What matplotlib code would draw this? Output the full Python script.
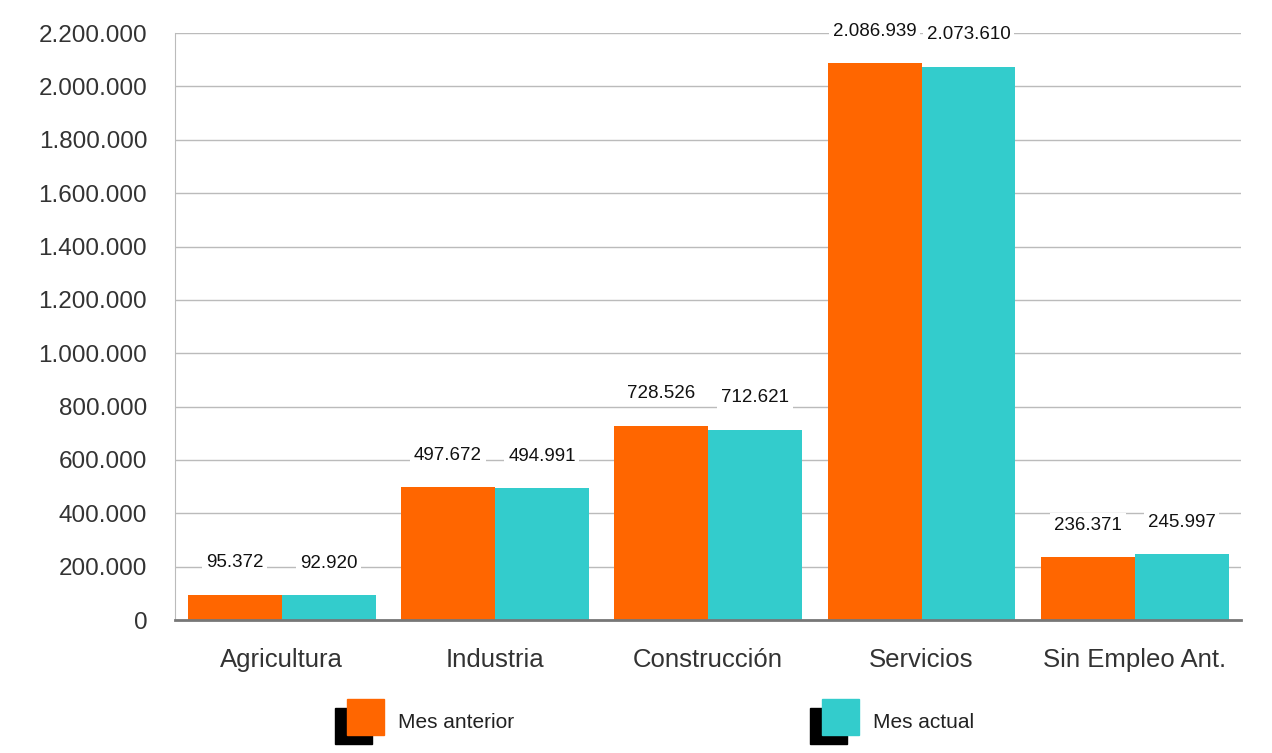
import numpy as np
import matplotlib.pyplot as plt
from matplotlib.patches import Rectangle
from matplotlib.ticker import FuncFormatter

categorias = ["Agricultura", "Industria", "Construcción", "Servicios", "Sin Empleo Ant."]
mes_anterior = [95372, 497672, 728526, 2086939, 236371]
mes_actual = [92920, 494991, 712621, 2073610, 245997]
series = ["Mes anterior", "Mes actual"]
colores = ["#FF6600", "#33CCCC"]

narrow = ["Liberation Sans Narrow", "Liberation Sans", "DejaVu Sans"]
plt.rcParams["font.family"] = ["Liberation Sans", "DejaVu Sans"]

fig = plt.figure(figsize=(12.72, 7.53), dpi=100)
ax = fig.add_axes([0.1376, 0.1766, 0.8384, 0.7794])

x = np.arange(len(categorias))
w = 0.44
for i, (vals, col) in enumerate(zip([mes_anterior, mes_actual], colores)):
    pos = x + (i - 0.5) * w
    ax.bar(pos, vals, width=w, color=col, zorder=2)
    for p, v in zip(pos, vals):
        ax.annotate(f"{v:,}".replace(",", "."), (p, v), xytext=(0, 23),
                    textcoords="offset points", ha="center", va="center",
                    fontsize=13.5, family=narrow, color="#111111", zorder=4,
                    bbox=dict(boxstyle="square,pad=0.2", fc="white", ec="none"))

ax.set_xlim(-0.5, 4.5)
ax.set_ylim(0, 2200000)
ax.set_yticks(np.arange(0, 2200001, 200000))
ax.yaxis.set_major_formatter(FuncFormatter(lambda v, _: f"{int(v):,}".replace(",", ".")))
ax.set_xticks(x)
ax.set_xticklabels(categorias)
ax.tick_params(axis="both", length=0, colors="#333333")
ax.tick_params(axis="x", pad=20, labelsize=18.5)
ax.tick_params(axis="y", pad=20, labelsize=17.5)
ax.grid(axis="y", color="#bbbbbb", linewidth=1, zorder=1)
for s in ["top", "right"]:
    ax.spines[s].set_visible(False)
ax.spines["left"].set_color("#bbbbbb")
ax.spines["bottom"].set_color("#777777")
ax.spines["bottom"].set_linewidth(2)

# leyenda con sombra negra
W, H = 1272, 753
for (lx, txt), col in zip([(347, series[0]), (822, series[1])], colores):
    fig.patches.append(Rectangle(((lx - 12) / W, 1 - 744 / H), 37 / W, 36 / H,
                                 transform=fig.transFigure, color="black"))
    fig.patches.append(Rectangle((lx / W, 1 - 735 / H), 37 / W, 36 / H,
                                 transform=fig.transFigure, color=col))
    fig.text((lx + 51) / W, 1 - 722 / H, txt, fontsize=15, family=narrow,
             color="#222222", va="center", ha="left")

fig.savefig("out.png", dpi=100)
